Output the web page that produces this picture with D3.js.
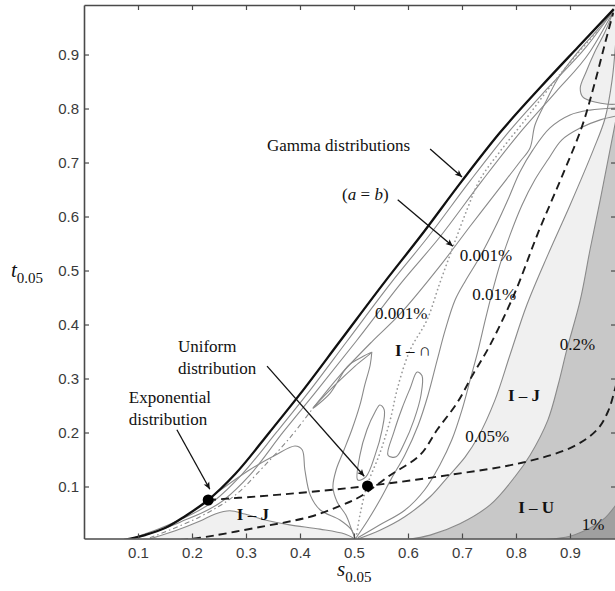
<!DOCTYPE html>
<html>
<head>
<meta charset="utf-8">
<script src="https://cdn.jsdelivr.net/npm/d3@7"></script>
<style>
  html, body { margin: 0; padding: 0; background: #ffffff; }
  svg { display: block; }
</style>
</head>
<body>
<svg id="chart" width="615" height="591"></svg>
<script>
// ---- tick values ----
const sTicks = [0.1, 0.2, 0.3, 0.4, 0.5, 0.6, 0.7, 0.8, 0.9];
const tTicks = [0.1, 0.2, 0.3, 0.4, 0.5, 0.6, 0.7, 0.8, 0.9];

// ---- curves in the (s0.05, t0.05) plane ----
const gammaCurve = [[0.074,0.001],[0.113,0.010],[0.150,0.023],[0.187,0.045],[0.230,0.075],[0.280,0.123],[0.344,0.201],[0.400,0.271],[0.474,0.369],[0.557,0.479],[0.622,0.562],[0.700,0.666],[0.770,0.755],[0.844,0.838],[0.915,0.914],[0.981,0.984]];

const nearGamma1 = [[0.080,0.001],[0.163,0.032],[0.243,0.075],[0.293,0.123],[0.357,0.201],[0.413,0.271],[0.487,0.369],[0.570,0.479],[0.637,0.562],[0.715,0.666],[0.785,0.755],[0.859,0.838],[0.930,0.914],[0.981,0.982]];
const nearGamma2 = [[0.085,0.001],[0.178,0.034],[0.259,0.075],[0.307,0.121],[0.369,0.201],[0.426,0.271],[0.504,0.369],[0.589,0.479],[0.659,0.562],[0.737,0.666],[0.807,0.755],[0.874,0.831],[0.937,0.905],[0.980,0.979]];
const dashDotLine = [[0.122,0.005],[0.215,0.044],[0.280,0.084],[0.330,0.134],[0.381,0.190],[0.424,0.245]];

// 0.001 % contour pieces
const sliverLoop = [[0.424,0.245],[0.456,0.273],[0.483,0.316],[0.493,0.327],[0.515,0.340],[0.533,0.349],[0.502,0.323],[0.465,0.288]];
const leftDescent = [[0.533,0.349],[0.530,0.325],[0.520,0.288],[0.511,0.251],[0.496,0.205],[0.480,0.164],[0.467,0.131],[0.461,0.099],[0.469,0.071],[0.485,0.047],[0.496,0.019],[0.502,0.003]];
const lowBend = [[0.248,0.090],[0.307,0.131],[0.354,0.158],[0.391,0.175],[0.404,0.168],[0.409,0.131],[0.419,0.084],[0.437,0.057],[0.474,0.038],[0.496,0.019],[0.502,0.003]];
const lobeA = [[0.507,0.112],[0.511,0.158],[0.524,0.205],[0.539,0.238],[0.548,0.251],[0.556,0.242],[0.552,0.205],[0.539,0.158],[0.522,0.118]];
const lobeB = [[0.563,0.158],[0.574,0.201],[0.589,0.245],[0.604,0.282],[0.617,0.312],[0.626,0.305],[0.624,0.269],[0.611,0.223],[0.594,0.182],[0.578,0.155]];
const upperBranch = [[0.424,0.245],[0.474,0.306],[0.533,0.368],[0.585,0.419],[0.659,0.508],[0.715,0.582],[0.770,0.653],[0.807,0.701],[0.826,0.727],[0.835,0.769],[0.854,0.810],[0.878,0.856],[0.915,0.905],[0.952,0.947],[0.981,0.982]];
const rightBranch = [[0.504,0.005],[0.526,0.038],[0.548,0.075],[0.570,0.116],[0.594,0.158],[0.619,0.214],[0.637,0.269],[0.654,0.334],[0.669,0.390],[0.687,0.445],[0.707,0.482],[0.733,0.525],[0.761,0.579],[0.785,0.631],[0.807,0.682],[0.831,0.723],[0.863,0.764],[0.900,0.788],[0.937,0.797],[0.985,0.801]];

// 0.01 %, 0.05 %, 0.2 % and 1 % contours
const contour001 = [[0.507,0.005],[0.548,0.029],[0.594,0.056],[0.631,0.094],[0.659,0.140],[0.681,0.186],[0.700,0.242],[0.715,0.297],[0.730,0.353],[0.743,0.408],[0.756,0.460],[0.770,0.510],[0.789,0.566],[0.811,0.621],[0.835,0.668],[0.859,0.705],[0.885,0.742],[0.919,0.764],[0.956,0.779],[0.985,0.786]];
const contour005 = [[0.502,0.001],[0.548,0.019],[0.594,0.044],[0.641,0.081],[0.674,0.118],[0.706,0.155],[0.730,0.192],[0.761,0.260],[0.789,0.344],[0.820,0.436],[0.859,0.529],[0.900,0.621],[0.943,0.723],[0.965,0.782],[0.978,0.853],[0.985,0.927]];
const contour02 = [[0.594,0.001],[0.641,0.010],[0.696,0.031],[0.752,0.066],[0.798,0.118],[0.826,0.158],[0.859,0.223],[0.878,0.288],[0.894,0.353],[0.919,0.445],[0.937,0.538],[0.956,0.631],[0.974,0.723],[0.985,0.779]];
const contour1 = [[0.844,0.001],[0.900,0.008],[0.937,0.023],[0.965,0.042],[0.985,0.066]];
const lowHump = [[0.122,0.003],[0.169,0.018],[0.215,0.036],[0.243,0.049],[0.270,0.055],[0.298,0.049],[0.335,0.038],[0.381,0.029],[0.437,0.021],[0.483,0.012],[0.502,0.003]];
const cornerLoop = [[0.980,0.979],[0.965,0.942],[0.946,0.905],[0.930,0.868],[0.919,0.838],[0.924,0.821],[0.946,0.812],[0.970,0.808],[0.989,0.808]];

// symmetric-case line (a = b) and the two dashed boundaries
const equalShape = [[0.504,0.005],[0.511,0.047],[0.524,0.101],[0.548,0.162],[0.567,0.223],[0.581,0.284],[0.604,0.353],[0.635,0.408],[0.659,0.477],[0.683,0.543],[0.709,0.612],[0.733,0.668],[0.770,0.720],[0.817,0.779],[0.863,0.840],[0.909,0.896],[0.952,0.945]];
const dashedLow = [[0.230,0.075],[0.326,0.082],[0.419,0.090],[0.525,0.101],[0.674,0.121],[0.811,0.144],[0.904,0.173],[0.950,0.205],[0.970,0.238],[0.983,0.279],[0.995,0.330]];
const dashedSteep = [[0.178,0.001],[0.215,0.005],[0.326,0.025],[0.419,0.044],[0.474,0.064],[0.511,0.081],[0.567,0.121],[0.622,0.158],[0.654,0.205],[0.691,0.255],[0.720,0.307],[0.752,0.362],[0.798,0.459],[0.841,0.570],[0.885,0.674],[0.922,0.766],[0.946,0.848],[0.965,0.921],[0.980,0.977]];

// special distributions: exponential, uniform
const specialPoints = [[0.230, 0.075], [0.525, 0.101]];

// ---- layout ----
const frame = { left: 84, right: 616, top: 5, bottom: 538.5 };
const svg = d3.select("#chart");
const x = d3.scaleLinear().domain([0, 0.9852]).range([frame.left, frame.right]);
const y = d3.scaleLinear().domain([0.0037, 0.9917]).range([frame.bottom, frame.top]);

const defs = svg.append("defs");
defs.append("clipPath").attr("id", "plotClip")
  .append("rect")
  .attr("x", frame.left).attr("y", frame.top)
  .attr("width", frame.right - frame.left).attr("height", frame.bottom - frame.top);
defs.append("marker")
  .attr("id", "arrowHead")
  .attr("viewBox", "0 0 10 10")
  .attr("refX", 10).attr("refY", 5)
  .attr("markerWidth", 10).attr("markerHeight", 7)
  .attr("markerUnits", "userSpaceOnUse")
  .attr("orient", "auto")
  .append("path").attr("d", "M0,0.5 L10,5 L0,9.5 L2.5,5 Z").attr("fill", "#111");

const smooth = d3.line().x(d => x(d[0])).y(d => y(d[1])).curve(d3.curveCatmullRom.alpha(0.5));
const monotone = d3.line().x(d => x(d[0])).y(d => y(d[1])).curve(d3.curveMonotoneX);
const smoothClosed = d3.line().x(d => x(d[0])).y(d => y(d[1])).curve(d3.curveCatmullRomClosed.alpha(0.5));
const below = d3.area().x(d => x(d[0])).y0(y(-0.01)).y1(d => y(d[1])).curve(d3.curveCatmullRom.alpha(0.5));

const plot = svg.append("g").attr("clip-path", "url(#plotClip)");

// shaded regions
plot.append("path").attr("d", below(contour005)).attr("fill", "#f0f0f0");
plot.append("path").attr("d", below(lowHump)).attr("fill", "#f0f0f0");
plot.append("path").attr("d", smooth(cornerLoop.concat([[0.995, 0.808], [0.995, 0.995], [0.980, 0.995]])) + "Z").attr("fill", "#f0f0f0");
plot.append("path").attr("d", below(contour02)).attr("fill", "#c8c8c8");
plot.append("path").attr("d", below(contour1)).attr("fill", "#a0a0a0");

// thin grey contours
const grey = "#8a8a8a";
[nearGamma1, nearGamma2].forEach(c => {
  plot.append("path").attr("d", monotone(c))
    .attr("fill", "none").attr("stroke", grey).attr("stroke-width", 1.1);
});
[leftDescent, lowBend, upperBranch, rightBranch,
 contour001, contour005, contour02, contour1, lowHump, cornerLoop].forEach(c => {
  plot.append("path").attr("d", smooth(c))
    .attr("fill", "none").attr("stroke", grey).attr("stroke-width", 1.1);
});
[sliverLoop, lobeA, lobeB].forEach(c => {
  plot.append("path").attr("d", smoothClosed(c))
    .attr("fill", "none").attr("stroke", grey).attr("stroke-width", 1.1);
});
plot.append("path").attr("d", smooth(dashDotLine))
  .attr("fill", "none").attr("stroke", grey).attr("stroke-width", 1.1)
  .attr("stroke-dasharray", "5,3,1.5,3");

// a = b line
plot.append("path").attr("d", smooth(equalShape))
  .attr("fill", "none").attr("stroke", "#9a9a9a").attr("stroke-width", 1.7)
  .attr("stroke-linecap", "round").attr("stroke-dasharray", "0.1,4.2");

// dashed boundaries
[dashedLow, dashedSteep].forEach(c => {
  plot.append("path").attr("d", smooth(c))
    .attr("fill", "none").attr("stroke", "#1c1c1c").attr("stroke-width", 1.9)
    .attr("stroke-dasharray", "8,5");
});

// gamma family
plot.append("path").attr("d", monotone(gammaCurve))
  .attr("fill", "none").attr("stroke", "#111").attr("stroke-width", 2.3);

// exponential and uniform points
svg.append("g").selectAll("circle").data(specialPoints).join("circle")
  .attr("cx", d => x(d[0])).attr("cy", d => y(d[1])).attr("r", 5.5).attr("fill", "#000");

// ---- axes ----
const axisColor = "#4a4a4a";
const fmt = d3.format(".1f");
function styleAxis(g) {
  g.select(".domain").attr("stroke", axisColor).attr("stroke-width", 1.6);
  g.selectAll(".tick line").attr("stroke", axisColor).attr("stroke-width", 1.2);
  g.selectAll(".tick text").attr("fill", "#3a3a3a")
    .style("font-family", "'Liberation Sans', Arial, sans-serif").style("font-size", "15px");
}
svg.append("g").attr("transform", `translate(0,${frame.bottom})`)
  .call(d3.axisBottom(x).tickValues(sTicks).tickSize(-5).tickSizeOuter(0).tickPadding(9).tickFormat(fmt))
  .call(styleAxis);
svg.append("g").attr("transform", `translate(${frame.left},0)`)
  .call(d3.axisLeft(y).tickValues(tTicks).tickSize(-5).tickSizeOuter(0).tickPadding(5).tickFormat(fmt))
  .call(styleAxis);
svg.append("g").attr("transform", `translate(0,${frame.top})`)
  .call(d3.axisTop(x).tickValues(sTicks).tickSize(-5).tickSizeOuter(0).tickFormat(""))
  .call(styleAxis);
svg.append("g").attr("transform", `translate(${frame.right},0)`)
  .call(d3.axisRight(y).tickValues(tTicks).tickSize(-5).tickSizeOuter(0).tickFormat(""))
  .call(styleAxis);

// axis titles
const serif = "'Liberation Serif', 'Times New Roman', serif";
function axisTitle(px, py, letter) {
  const t = svg.append("text").attr("x", px).attr("y", py)
    .style("font-family", serif).attr("fill", "#111");
  t.append("tspan").text(letter).style("font-style", "italic").style("font-size", "21px");
  t.append("tspan").text("0.05").style("font-size", "15px").attr("dy", 6);
}
axisTitle(11, 277, "t");
axisTitle(337, 576, "s");

// ---- annotations ----
const notes = [
  { s: 0.339, t: 0.721, parts: [["Gamma distributions", ""]] },
  { s: 0.478, t: 0.631, parts: [["(", ""], ["a", "i"], [" = ", ""], ["b", "i"], [")", ""]] },
  { s: 0.696, t: 0.518, parts: [["0.001%", ""]] },
  { s: 0.719, t: 0.445, parts: [["0.01%", ""]] },
  { s: 0.539, t: 0.410, parts: [["0.001%", ""]] },
  { s: 0.576, t: 0.342, parts: [["I", "b"], [" \u2013 \u2229", ""]] },
  { s: 0.881, t: 0.353, parts: [["0.2%", ""]] },
  { s: 0.785, t: 0.258, parts: [["I", "b"], [" \u2013 ", ""], ["J", "b"]] },
  { s: 0.706, t: 0.182, parts: [["0.05%", ""]] },
  { s: 0.804, t: 0.051, parts: [["I", "b"], [" \u2013 ", ""], ["U", "b"]] },
  { s: 0.922, t: 0.019, parts: [["1%", ""]] },
  { s: 0.283, t: 0.038, parts: [["I", "b"], [" \u2013 ", ""], ["J", "b"]] },
  { s: 0.174, t: 0.349, parts: [["Uniform", ""]] },
  { s: 0.174, t: 0.308, parts: [["distribution", ""]] },
  { s: 0.083, t: 0.255, parts: [["Exponential", ""]] },
  { s: 0.083, t: 0.214, parts: [["distribution", ""]] }
];
const noteLayer = svg.append("g").style("font-family", serif).style("font-size", "17px").attr("fill", "#111");
notes.forEach(n => {
  const txt = noteLayer.append("text").attr("x", x(n.s)).attr("y", y(n.t));
  n.parts.forEach(([str, st]) => {
    const sp = txt.append("tspan").text(str);
    if (st === "b") sp.style("font-weight", "bold");
    if (st === "i") sp.style("font-style", "italic");
  });
});

// pointer arrows: [s from, t from, s to, t to]
const pointers = [
  [0.641, 0.725, 0.700, 0.673],
  [0.581, 0.631, 0.683, 0.545],
  [0.339, 0.323, 0.519, 0.119],
  [0.172, 0.205, 0.233, 0.095]
];
svg.append("g").selectAll("line").data(pointers).join("line")
  .attr("x1", d => x(d[0])).attr("y1", d => y(d[1]))
  .attr("x2", d => x(d[2])).attr("y2", d => y(d[3]))
  .attr("stroke", "#111").attr("stroke-width", 1.3)
  .attr("marker-end", "url(#arrowHead)");
</script>
</body>
</html>
